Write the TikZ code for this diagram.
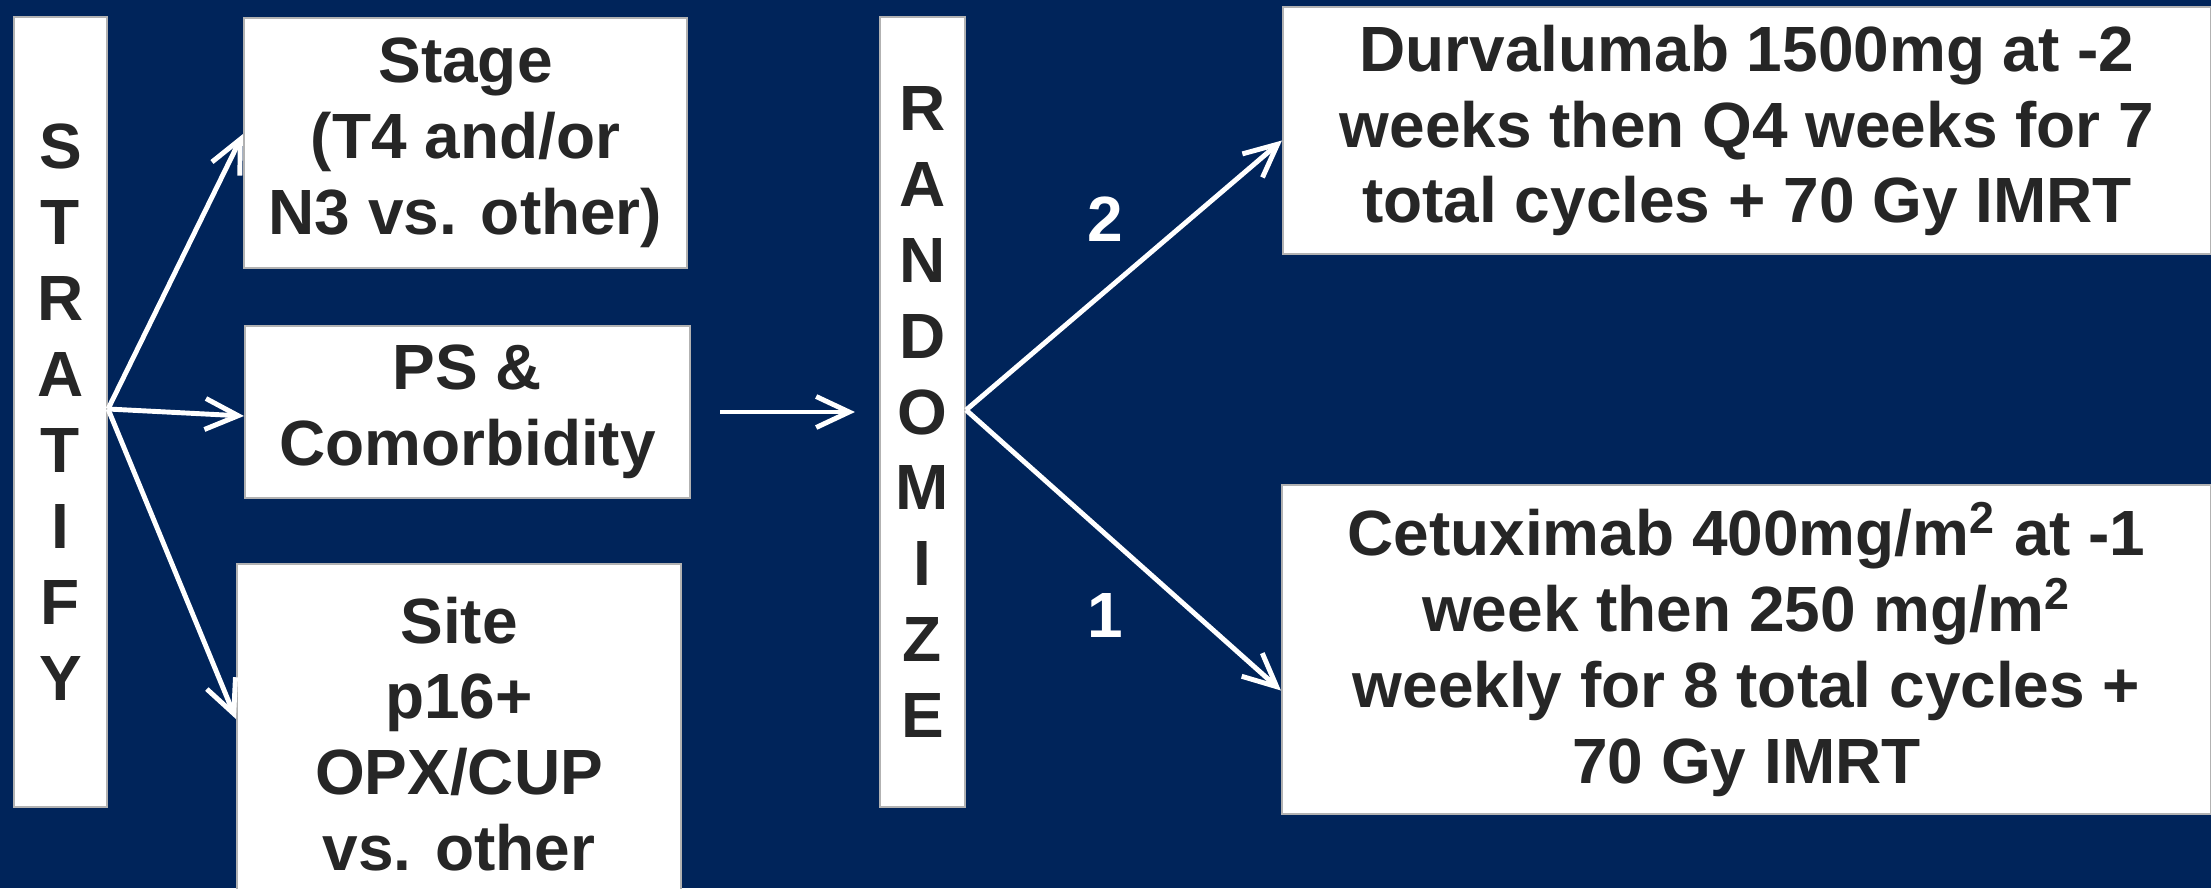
\documentclass[tikz,border=0pt]{standalone}
\usepackage{fontspec}
\setmainfont{Liberation Sans}
\usetikzlibrary{arrows.meta}
\definecolor{navy}{RGB}{0,36,90}
\definecolor{ink}{RGB}{38,38,38}

\begin{document}
\begin{tikzpicture}[
  box/.style={draw=gray!60, line width=0.6pt, fill=white, text=ink, align=center, inner sep=0pt,
    font=\fontsize{18.2}{21.6}\selectfont\bfseries},
  arr/.style={white, line width=1.4pt, -{Straight Barb[length=0.33cm,width=0.31cm]}},
  armlabel/.style={text=white, font=\fontsize{18.2}{21.6}\selectfont\bfseries}
]
\useasboundingbox (0,0) rectangle (22.11,8.88);
\clip (0,0) rectangle (22.11,8.88);
\fill [navy] (0,0) rectangle (22.11,8.88);

\node [box, minimum width=0.93cm, minimum height=7.9cm] (strat) at (0.605,4.76) {S\\T\\R\\A\\T\\I\\F\\Y};
\node [box, minimum width=4.43cm, minimum height=2.5cm] (stage) at (4.655,7.45) {Stage\\(T4 and/or\\N3 vs. other)};
\node [box, minimum width=4.45cm, minimum height=1.72cm] (ps) at (4.675,4.76) {PS \&\\Comorbidity};
\node [box, minimum width=4.44cm, minimum height=3.4cm] (site) at (4.59,1.54) {Site\\p16+\\OPX/CUP\\vs. other};
\node [box, minimum width=0.85cm, minimum height=7.9cm] (rand) at (9.225,4.76) {R\\A\\N\\D\\O\\M\\I\\Z\\E};
\node [box, minimum width=9.28cm, minimum height=2.47cm] (durva) at (17.47,7.575)
  {Durvalumab 1500mg at -2\\weeks then Q4 weeks for 7\\total cycles + 70 Gy IMRT};
\node [box, minimum width=9.29cm, minimum height=3.29cm] (cetux) at (17.465,2.385)
  {Cetuximab 400mg/m\textsuperscript{2} at -1\\week then 250 mg/m\textsuperscript{2}\\weekly for 8 total cycles +\\70 Gy IMRT};
\node [armlabel] (two) at (11.05,6.69) {2};
\node [armlabel] (one) at (11.05,2.73) {1};

\coordinate (sfork) at ([yshift=0.03cm]strat.east);
\coordinate (rfork) at ([yshift=0.02cm]rand.east);
\draw [arr] (sfork) -- ([yshift=0.09cm]stage.west);
\draw [arr] (sfork) -- ([yshift=-0.04cm]ps.west);
\draw [arr] (sfork) -- ([yshift=0.15cm]site.west);
\draw [arr, shorten <=0.29cm, shorten >=0.24cm] (ps.east) -- (rand.west |- ps.east);
\draw [arr] (rfork) -- ([yshift=-0.1cm]durva.west);
\draw [arr] (rfork) -- ([yshift=-0.41cm]cetux.west);
\end{tikzpicture}
\end{document}
